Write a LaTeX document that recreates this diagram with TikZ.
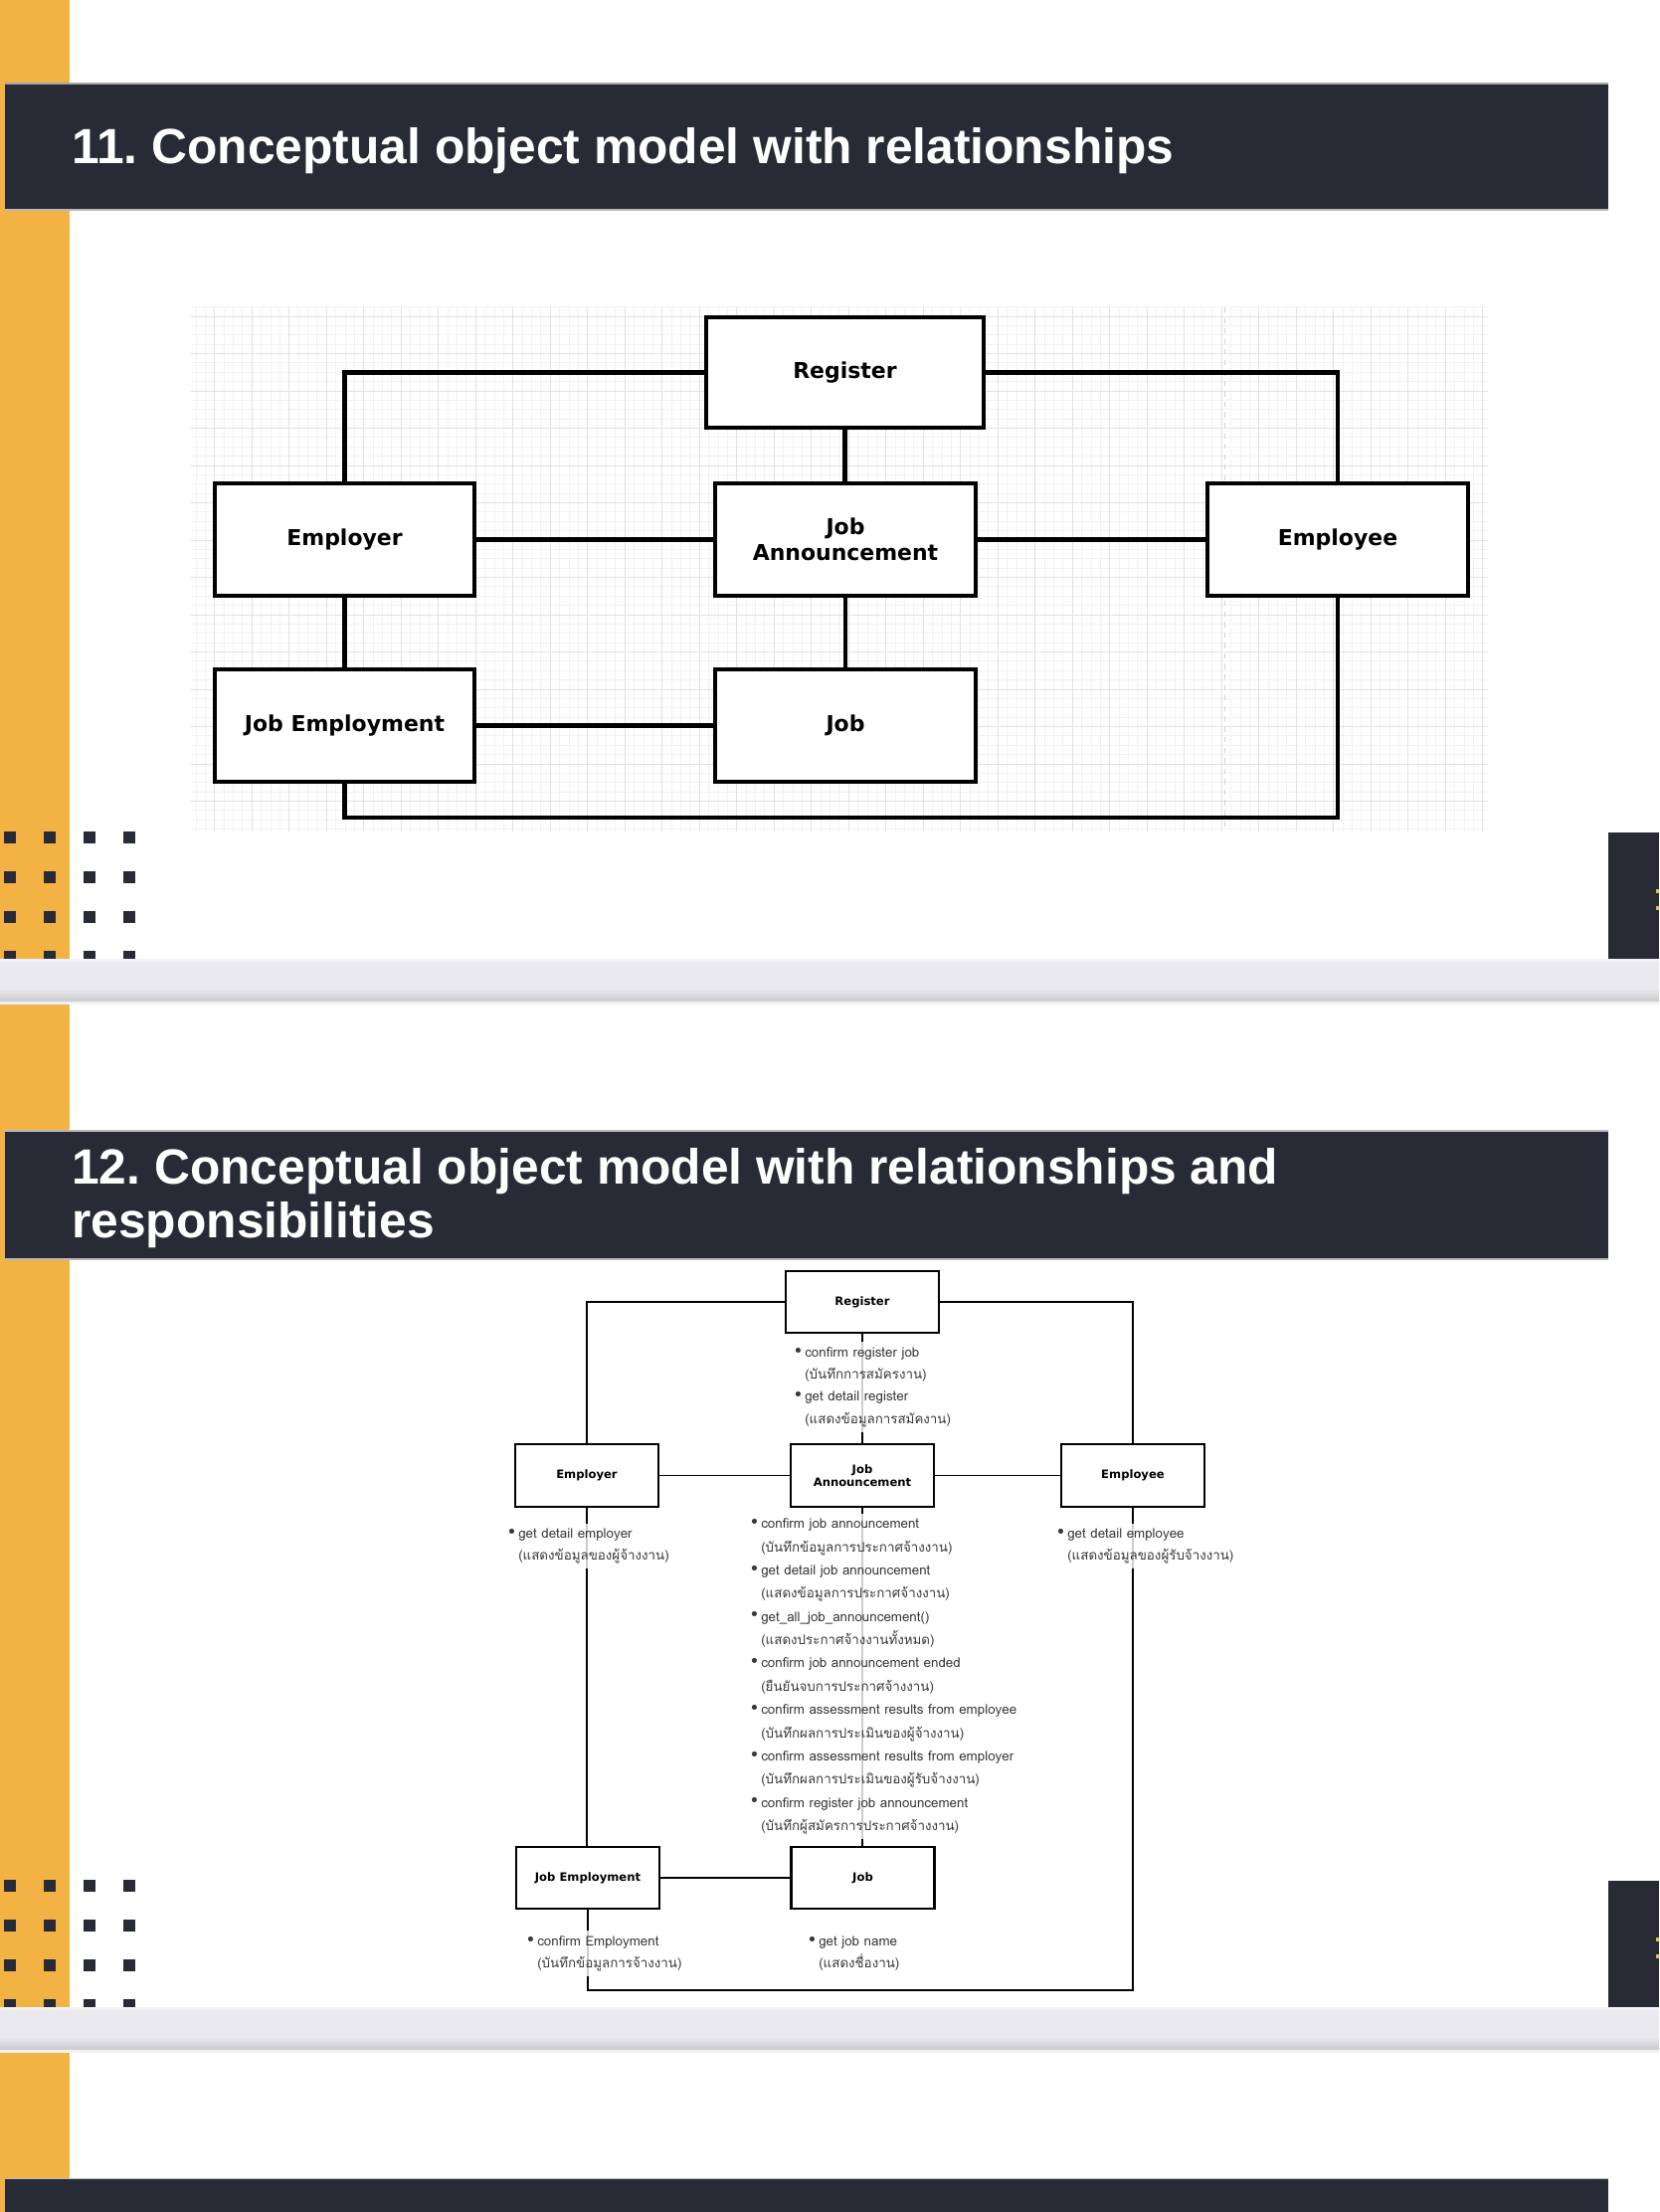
\documentclass[tikz,border=0pt]{standalone}
\usepackage{fontspec}
\setmainfont{Liberation Sans}
\newfontfamily\boxfont{DejaVu Sans}
\newfontfamily\thaifont[Script=Thai]{Loma}
\newfontfamily\symfont{DejaVu Sans}
\usetikzlibrary{calc}
\frenchspacing

\definecolor{navy}{HTML}{282A35}
\definecolor{slideorange}{HTML}{F3B244}
\definecolor{gridminor}{HTML}{F2F2F2}
\definecolor{gridmajor}{HTML}{E2E2E2}
\definecolor{bandtop}{HTML}{EAEAEE}
\definecolor{bandbot}{HTML}{C9C9CE}
\definecolor{bandedgeA}{HTML}{F3F3F5}
\definecolor{bandedgeB}{HTML}{F1F1F3}
\definecolor{resptext}{HTML}{383838}

% bullet and hanging indent for the responsibility lists
\newcommand\rbul{\makebox[6.8pt][l]{\symfont\fontsize{10pt}{10pt}\selectfont\raisebox{0.2pt}{•}}}
\newcommand\rind{\hspace*{6.8pt}}

\tikzset{
  bigbox/.style={draw=black, line width=2.4pt, fill=white, minimum width=5.23cm, minimum height=2.26cm,
    inner sep=0pt, align=center, font=\boxfont\bfseries\fontsize{12.5pt}{15pt}\selectfont},
  bigline/.style={draw=black, line width=2.3pt},
  smallbox/.style={draw=black, line width=1.2pt, fill=white, minimum width=2.88cm, minimum height=1.26cm,
    inner sep=0pt, align=center, font=\boxfont\bfseries\fontsize{6.6pt}{7.6pt}\selectfont},
  smallline/.style={draw=black, line width=0.85pt},
  % multi-line nodes: the base anchor sits on the last line
  resp/.style={anchor=base west, align=left, inner xsep=1.7pt, inner ysep=3pt,
    fill=white, fill opacity=0.8, text opacity=1, text=resptext,
    font=\thaifont\fontsize{7.6pt}{12.6pt}\selectfont},
  title/.style={anchor=base west, inner sep=0pt, text=white, align=left,
    font=\bfseries\fontsize{28.3pt}{30.6pt}\selectfont},
  dot/.style={fill=navy},
}

\begin{document}
\begin{tikzpicture}[x=0.02cm, y=-0.02cm]
\useasboundingbox (0,0) rectangle (1668,2224);
\fill[white] (0,0) rectangle (1668,2224);

% left accent strip
\fill[slideorange] (0,0) rectangle (70,2224);

% square dot patterns
\foreach \yy in {842,882,922,962,1896,1936,1976,2016}
  \foreach \xx in {10,50,90,130}
    \fill[dot] (\xx-6,\yy-6) rectangle (\xx+6,\yy+6);

% header bars
\fill[navy] (5,84) rectangle (1617,211);
\draw[gray!70, line width=0.6pt] (5,84) -- (1617,84);
\draw[gray!55, line width=0.6pt] (5,211) -- (1617,211);
\node[title] (t11) at (72,164) {11. Conceptual object model with relationships};

\fill[navy] (5,1137) rectangle (1617,1266);
\draw[gray!55, line width=0.6pt] (5,1137) -- (1617,1137);
\draw[gray!55, line width=0.6pt] (5,1266) -- (1617,1266);
\node[title] (t12) at (72,1244) {12. Conceptual object model with relationships and\\responsibilities};

\fill[navy] (5,2190) rectangle (1617,2224);
\draw[gray!55, line width=0.6pt] (5,2190) -- (1617,2190);

% right-hand tabs of neighbouring slides
\fill[navy] (1617,837) rectangle (1668,967);
\fill[slideorange] (1665,894) rectangle (1668,898);
\fill[slideorange] (1665,911) rectangle (1668,915);
\fill[navy] (1617,1891) rectangle (1668,2018);
\fill[slideorange] (1665,1948) rectangle (1668,1952);
\fill[slideorange] (1665,1965) rectangle (1668,1969);

% ---------------- diagram 11: grid paper ----------------
\foreach \i in {0,...,138}
  \draw[gridminor, line width=0.5pt] ({196.95+\i*9.375},309) -- ({196.95+\i*9.375},836);
\foreach \j in {0,...,56}
  \draw[gridminor, line width=0.5pt] (192,{308.6+\j*9.375}) -- (1496,{308.6+\j*9.375});
\foreach \i in {0,...,34}
  \draw[gridmajor, line width=0.5pt] ({215.7+\i*37.5},309) -- ({215.7+\i*37.5},836);
\foreach \j in {0,...,13}
  \draw[gridmajor, line width=0.5pt] (192,{318+\j*37.5}) -- (1496,{318+\j*37.5});
\draw[gray!35, dashed, line width=0.5pt] (1231,309) -- (1231,836);

% diagram 11: classes
\node[bigbox, minimum width=5.58cm, minimum height=2.22cm] (reg) at (849.5,374.5) {Register};
\node[bigbox] (emp) at (346.5,542.5) {Employer};
\node[bigbox] (ann) at (850,542.5) {Job\\Announcement};
\node[bigbox] (eme) at (1345,542.5) {Employee};
\node[bigbox] (jem) at (346.5,729.5) {Job Employment};
\node[bigbox] (job) at (850,729.5) {Job};
\coordinate (low) at (0,822);

% diagram 11: relationships
\draw[bigline] (reg.west) -| (emp.north);
\draw[bigline] (reg.east) -| (eme.north);
\draw[bigline] (reg.south) -- (reg.south |- ann.north);
\draw[bigline] (emp.east) -- (ann.west);
\draw[bigline] (ann.east) -- (eme.west);
\draw[bigline] (emp.south) -- (jem.north);
\draw[bigline] (ann.south) -- (job.north);
\draw[bigline] (jem.east) -- (job.west);
\draw[bigline] (jem.south) |- (eme.south |- low) -- (eme.south);

% ---------------- diagram 12 ----------------
\node[smallbox, minimum width=3.08cm, minimum height=1.24cm] (reg2) at (867,1309) {Register};
\node[smallbox] (emp2) at (590,1483.5) {Employer};
\node[smallbox] (ann2) at (867,1483.5) {Job\\Announcement};
\node[smallbox] (eme2) at (1139,1483.5) {Employee};
\node[smallbox, minimum height=1.24cm] (jem2) at (591,1888) {Job Employment};
\node[smallbox, minimum height=1.24cm] (job2) at (867.5,1888) {Job};
\coordinate (low2) at (0,2001);

\draw[smallline] (reg2.west) -| (emp2.north);
\draw[smallline] (reg2.east) -| (eme2.north);
\draw[smallline] (reg2.south) -- (ann2.north);
\draw[smallline] (emp2.east) -- (ann2.west);
\draw[smallline] (ann2.east) -- (eme2.west);
\draw[smallline] (emp2.south) -- (emp2.south |- jem2.north);
\draw[smallline] (ann2.south) -- (ann2.south |- job2.north);
\draw[smallline] (jem2.east) -- (job2.west);
\draw[smallline] (jem2.south) |- (eme2.south |- low2) -- (eme2.south);

% responsibilities (positioned by the baseline of their last line)
\node[resp] (rreg) at (794,1431) {\rbul confirm register job\\\rind(บันทึกการสมัครงาน)\\\rbul get detail register\\\rind(แสดงข้อมูลการสมัคงาน)};
\node[resp] (remp) at (506,1568.5) {\rbul get detail employer\\\rind(แสดงข้อมูลของผู้จ้างงาน)};
\node[resp] (reme) at (1058,1568.5) {\rbul get detail employee\\\rind(แสดงข้อมูลของผู้รับจ้างงาน)};
\node[resp, font=\thaifont\fontsize{7.6pt}{13.3pt}\selectfont] (rann) at (750,1840.5) {\rbul confirm job announcement\\\rind(บันทึกข้อมูลการประกาศจ้างงาน)\\
\rbul get detail job announcement\\\rind(แสดงข้อมูลการประกาศจ้างงาน)\\
\rbul get\_all\_job\_announcement()\\\rind(แสดงประกาศจ้างงานทั้งหมด)\\
\rbul confirm job announcement ended\\\rind(ยืนยันจบการประกาศจ้างงาน)\\
\rbul confirm assessment results from employee\\\rind(บันทึกผลการประเมินของผู้จ้างงาน)\\
\rbul confirm assessment results from employer\\\rind(บันทึกผลการประเมินของผู้รับจ้างงาน)\\
\rbul confirm register job announcement\\\rind(บันทึกผู้สมัครการประกาศจ้างงาน)};
\node[resp] (rjem) at (525,1978.5) {\rbul confirm Employment\\\rind(บันทึกข้อมูลการจ้างงาน)};
\node[resp] (rjob) at (808,1978.5) {\rbul get job name\\\rind(แสดงชื่องาน)};

% grey separator bands between slides
\foreach \top in {964,2018} {
  \fill[bandedgeA] (0,\top) rectangle (1668,\top+3);
  \fill[bandtop] (0,\top+3) rectangle (1668,\top+30);
  \shade[top color=bandtop, bottom color=bandbot] (0,\top+30) rectangle (1668,\top+43);
  \fill[bandedgeB] (0,\top+43) rectangle (1668,\top+46);
}
\end{tikzpicture}
\end{document}
